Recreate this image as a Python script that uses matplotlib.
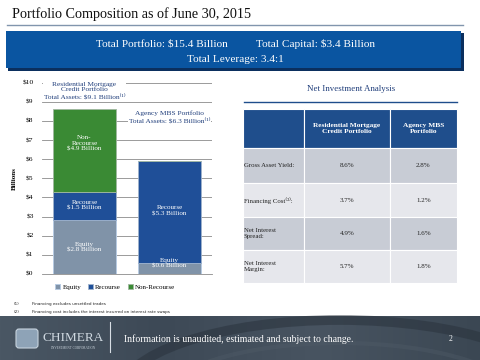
import matplotlib
matplotlib.use("Agg")
import matplotlib.pyplot as plt
from matplotlib.patches import Rectangle, FancyBboxPatch, Ellipse
import numpy as np

# ---------------- data ----------------
portfolios = ["Residential Mortgage Credit", "Agency MBS"]
equity = [2.8, 0.6]
recourse = [1.5, 5.3]
non_recourse = [4.35, 0.0]
equity_labels = ["Equity\n$2.8 Billion", "Equity\n$0.6 Billion"]
recourse_labels = ["Recourse\n$1.5 Billion", "Recourse\n$5.3 Billion"]
nonrec_labels = ["Non-\nRecourse\n$4.9 Billion", ""]
top_labels = ["Residential Mortgage\nCredit Portfolio\nTotal Assets: $9.1 Billion\u207d\u00b9\u207e",
              "Agency MBS Portfolio\nTotal Assets: $6.3 Billion\u207d\u00b9\u207e"]
yticks = list(range(0, 11))
ytick_labels = ["$%d" % v for v in yticks]
series_names = ["Equity", "Recourse", "Non-Recourse"]

table_cols = ["Residential Mortgage\nCredit Portfolio", "Agency MBS\nPortfolio"]
table_rows = ["Gross Asset Yield:", "Financing Cost\u207d\u00b2\u207e:", "Net Interest\nSpread:", "Net Interest\nMargin:"]
rmc_values = ["8.6%", "3.7%", "4.9%", "5.7%"]
agency_values = ["2.8%", "1.2%", "1.6%", "1.8%"]

SERIF = ["Liberation Serif", "DejaVu Serif"]
C_EQ = "#8093a8"
C_REC = "#1f4f98"
C_NR = "#3a8a34"

W, H = 480, 360
fig = plt.figure(figsize=(4.8, 3.6), dpi=100)
fig.patch.set_facecolor("white")

bg = fig.add_axes([0, 0, 1, 1], zorder=0)
bg.set_xlim(0, W)
bg.set_ylim(H, 0)
bg.axis("off")

# title
bg.text(12, 14, "Portfolio Composition as of June 30, 2015", fontsize=10.2,
        family=SERIF, color="#111111", va="center", ha="left")
bg.plot([7, 463], [25, 25], color="#8195ad", lw=1.0)

# banner
bg.add_patch(Rectangle((8, 33), 456, 38, facecolor="#0b2f5e", edgecolor="none"))
bg.add_patch(Rectangle((6, 31), 455, 37, facecolor="#0a55a1", edgecolor="none"))
bg.text(162, 44, "Total Portfolio: $15.4 Billion", fontsize=8.1, family=SERIF,
        color="white", ha="center", va="center")
bg.text(316, 44, "Total Capital: $3.4 Billion", fontsize=8.1, family=SERIF,
        color="white", ha="center", va="center")
bg.text(235, 60, "Total Leverage: 3.4:1", fontsize=8.1, family=SERIF,
        color="white", ha="center", va="center")

# ---------------- bar chart ----------------
ax = fig.add_axes([42 / W, 1 - 274 / H, 170 / W, (274 - 82.7) / H], zorder=2)
ax.patch.set_alpha(0)
x = np.arange(len(portfolios))
bw = 0.75
eq = np.array(equity)
rc = np.array(recourse)
nr = np.array(non_recourse)
ax.bar(x, eq, bw, color=C_EQ, edgecolor="#b7cbe2", lw=0.7, zorder=3, label=series_names[0])
ax.bar(x, rc, bw, bottom=eq, color=C_REC, edgecolor="#9fb3cc", lw=0.6, zorder=3, label=series_names[1])
ax.bar(x, nr, bw, bottom=eq + rc, color=C_NR, edgecolor="#a0b8a0", lw=0.6, zorder=3, label=series_names[2])
ax.set_xlim(-0.5, 1.5)
ax.set_ylim(0, 10)
ax.set_yticks(yticks)
ax.set_yticklabels(ytick_labels, family=SERIF, fontsize=5.4)
ax.tick_params(axis="y", length=0, pad=6)
ax.set_xticks([])
ax.grid(axis="y", color="#8a8a8a", lw=0.6, zorder=0)
for s in ["left", "right", "top"]:
    ax.spines[s].set_visible(False)
ax.spines["bottom"].set_color("#8a8a8a")
ax.spines["bottom"].set_linewidth(0.6)
ax.set_ylabel("Billions", family=SERIF, fontsize=5.0, fontweight="bold", labelpad=4)

tk = dict(family=SERIF, fontsize=5.1, color="white", ha="center", va="center",
          linespacing=1.2, zorder=5)
for i in range(len(portfolios)):
    if equity_labels[i]:
        yy = eq[i] / 2 if eq[i] > 1 else eq[i] - 0.03
        ax.text(x[i], yy, equity_labels[i], **tk)
    if recourse_labels[i]:
        ax.text(x[i], eq[i] + rc[i] / 2 + 0.05, recourse_labels[i], **tk)
    if nonrec_labels[i]:
        ax.text(x[i], eq[i] + rc[i] + nr[i] / 2 + 0.35, nonrec_labels[i], **tk)

ax.text(x[0], 9.6, top_labels[0], family=SERIF, fontsize=5.3, color="#1f3d7a",
        ha="center", va="center", linespacing=1.1, zorder=5,
        bbox=dict(facecolor="white", edgecolor="none", pad=0.5))
ax.text(x[1], 8.2, top_labels[1], family=SERIF, fontsize=5.3, color="#1f3d7a",
        ha="center", va="center", linespacing=1.15, zorder=5,
        bbox=dict(facecolor="white", edgecolor="none", pad=0.5))

leg = ax.legend(loc="upper center", bbox_to_anchor=(0.43, -0.035), ncol=3,
                frameon=False, prop={"family": SERIF, "size": 5.0},
                handlelength=0.7, handleheight=0.7, handletextpad=0.3,
                columnspacing=1.0, borderpad=0)

# ---------------- table ----------------
bg.text(351, 89, "Net Investment Analysis", family=SERIF, fontsize=6.4,
        color="#1f3d7a", ha="center", va="center")
bg.plot([244, 457], [102, 102], color="#1f4e8c", lw=1.0)

col_x = [243, 304, 390, 457]
row_y = [109, 148, 183, 217, 250, 283]
row_fc = ["#c8ccd5", "#e6e7ec", "#c8ccd5", "#e6e7ec"]
for c in range(3):
    bg.add_patch(Rectangle((col_x[c], row_y[0]), col_x[c + 1] - col_x[c],
                           row_y[1] - row_y[0], facecolor="#1f4e8c",
                           edgecolor="white", lw=0.8))
for c, name in enumerate(table_cols):
    bg.text((col_x[c + 1] + col_x[c + 2]) / 2, (row_y[0] + row_y[1]) / 2, name,
            family=SERIF, fontsize=5.3, fontweight="bold", color="white",
            ha="center", va="center", linespacing=1.25)
for r in range(len(table_rows)):
    for c in range(3):
        bg.add_patch(Rectangle((col_x[c], row_y[r + 1]), col_x[c + 1] - col_x[c],
                               row_y[r + 2] - row_y[r + 1], facecolor=row_fc[r],
                               edgecolor="white", lw=0.8))
    ym = (row_y[r + 1] + row_y[r + 2]) / 2
    bg.text(col_x[0] + 1, ym, table_rows[r], family=SERIF, fontsize=4.9,
            color="#222222", ha="left", va="center", linespacing=1.25)
    bg.text((col_x[1] + col_x[2]) / 2, ym, rmc_values[r], family=SERIF,
            fontsize=5.0, color="#222222", ha="center", va="center")
    bg.text((col_x[2] + col_x[3]) / 2, ym, agency_values[r], family=SERIF,
            fontsize=5.0, color="#222222", ha="center", va="center")

# footnotes
bg.text(14, 304, "(1)", fontsize=3, color="#222222", va="center")
bg.text(32, 304, "Financing excludes unsettled trades", fontsize=3, color="#222222", va="center")
bg.text(14, 312, "(2)", fontsize=3, color="#222222", va="center")
bg.text(32, 312, "Financing cost includes the interest incurred on interest rate swaps",
        fontsize=3, color="#222222", va="center")

# ---------------- footer ----------------
grad = np.linspace(0, 1, 256)
cmap = matplotlib.colors.LinearSegmentedColormap.from_list(
    "ft", ["#4a5764", "#3d4956", "#485461", "#3b4753"])
bg.imshow(grad[None, :], extent=(0, W, 360, 316), aspect="auto", cmap=cmap, zorder=1)
bg.add_patch(Ellipse((340, 395), 440, 150, facecolor="none", edgecolor="#2a333d",
                     lw=7, alpha=0.55, zorder=2))
bg.add_patch(Ellipse((340, 402), 360, 118, facecolor="none", edgecolor="#525e6a",
                     lw=3, alpha=0.35, zorder=2))
bg.set_xlim(0, W)
bg.set_ylim(H, 0)
bg.add_patch(FancyBboxPatch((16, 329), 22, 19, boxstyle="round,pad=0,rounding_size=3",
                            facecolor="#8ea3b7", edgecolor="#c7d3de", lw=0.8, zorder=3))
bg.text(73, 338, "CHIMERA", family=SERIF, fontsize=9.5, color="#cfd8e0",
        ha="center", va="center", zorder=3)
bg.text(73, 348, "INVESTMENT CORPORATION", family=SERIF, fontsize=2.3, color="#cfd8e0",
        ha="center", va="center", zorder=3)
bg.plot([110, 110], [322, 352], color="#d8dee4", lw=0.8, zorder=3)
bg.text(124, 339, "Information is unaudited, estimated and subject to change.",
        family=SERIF, fontsize=7.0, color="white", ha="left", va="center", zorder=3)
bg.text(451, 339, "2", family=SERIF, fontsize=5.5, color="white", ha="center",
        va="center", zorder=3)

fig.savefig("out.png", dpi=100)
